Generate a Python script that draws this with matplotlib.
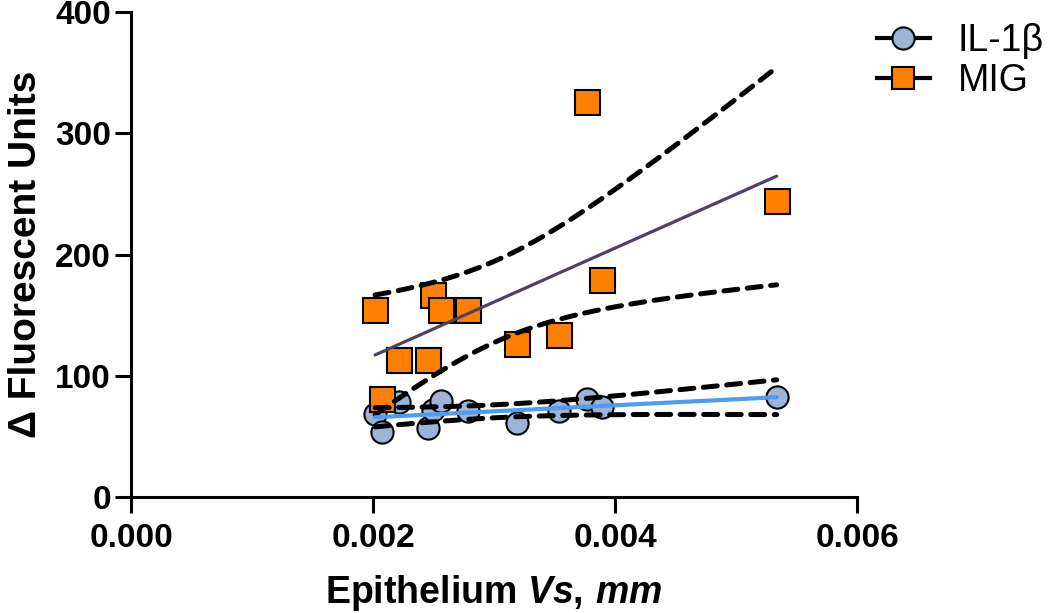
import numpy as np
import matplotlib
matplotlib.use("Agg")
import matplotlib.pyplot as plt
from matplotlib.lines import Line2D

# epithelium Vs (mm), same samples for both analytes
vs_mm = [0.002017, 0.002077, 0.002215, 0.002455, 0.002498, 0.002564,
         0.002788, 0.003193, 0.003537, 0.003766, 0.003889, 0.005336]
il1b = [68.5, 54, 78.6, 57, 72, 79, 71, 61, 71, 80.5, 74.5, 82.7]
mig = [154, 81, 113, 113, 167, 154, 154, 126, 134, 326, 179, 244]

x_ticks = [0.000, 0.002, 0.004, 0.006]
y_ticks = [0, 100, 200, 300, 400]

T95 = {10: 2.2281}  # two-sided 95% t value by dof


def fit_band(x, y, n=120):
    x = np.asarray(x)
    y = np.asarray(y)
    slope, icpt = np.polyfit(x, y, 1)
    xs = np.linspace(x.min(), x.max(), n)
    fit = slope * xs + icpt
    resid = y - (slope * x + icpt)
    dof = len(x) - 2
    s = np.sqrt(np.sum(resid ** 2) / dof)
    se = s * np.sqrt(1 / len(x) + (xs - x.mean()) ** 2 / np.sum((x - x.mean()) ** 2))
    return xs, fit, fit - T95[dof] * se, fit + T95[dof] * se


plt.rcParams["font.family"] = ["Liberation Sans", "DejaVu Sans"]
plt.rcParams["mathtext.fontset"] = "custom"
plt.rcParams["mathtext.it"] = "Liberation Sans:italic:bold"
plt.rcParams["mathtext.rm"] = "Liberation Sans:bold"

fig = plt.figure(figsize=(10.5, 6.13), dpi=100)
ax = fig.add_axes([0.1248, 0.1892, 0.6914, 0.7912])

blue_fill = "#9db4d6"
orange = "#ff8000"

ax.plot(vs_mm, il1b, "o", ms=16, mfc=blue_fill, mec="black", mew=1.5, zorder=2)
ax.plot(vs_mm, mig, "s", ms=18, mfc=orange, mec="black", mew=1.5, zorder=2)

dash_kw = dict(color="black", lw=3.6, dashes=(2.8, 1.9), dash_capstyle="round", zorder=3)
for y, col, lw in [(il1b, "#4d9cf0", 3.0), (mig, "#51405f", 2.3)]:
    xs, fit, lo, hi = fit_band(vs_mm, y)
    ax.plot(xs, lo, **dash_kw)
    ax.plot(xs, hi, **dash_kw)
    ax.plot(xs, fit, color=col, lw=lw, solid_capstyle="round", zorder=4)

ax.set_xlim(0, 0.006)
ax.set_ylim(0, 400)
ax.set_xticks(x_ticks)
ax.set_xticklabels([f"{v:.3f}" for v in x_ticks])
ax.set_yticks(y_ticks)
for side in ["top", "right"]:
    ax.spines[side].set_visible(False)
for side in ["left", "bottom"]:
    ax.spines[side].set_linewidth(2.2)
ax.tick_params(width=2.2, length=11.5, labelsize=24, pad=3)
ax.tick_params(axis="x", pad=7)
for lab in ax.get_xticklabels() + ax.get_yticklabels():
    lab.set_fontweight("bold")

ax.set_ylabel("\u0394 Fluorescent Units", fontsize=28, fontweight="bold")
ax.yaxis.set_label_coords(-0.12, 0.5)
ax.set_xlabel("Epithelium $\\mathit{Vs,}\\,\\mathit{mm}$", fontsize=27, fontweight="bold", labelpad=14)

handles = [
    Line2D([], [], color="black", lw=3, marker="o", ms=16, mfc=blue_fill, mec="black", mew=1.5),
    Line2D([], [], color="black", lw=3, marker="s", ms=16, mfc=orange, mec="black", mew=1.5),
]
fig.legend(handles, ["IL-1\u03b2", "MIG"], loc="upper left", bbox_to_anchor=(877 / 1050, 0.962),
           frameon=False, fontsize=27, handlelength=1.4, handletextpad=0.75, labelspacing=0.1,
           borderpad=0, borderaxespad=0)

fig.savefig("out.png", dpi=100)
